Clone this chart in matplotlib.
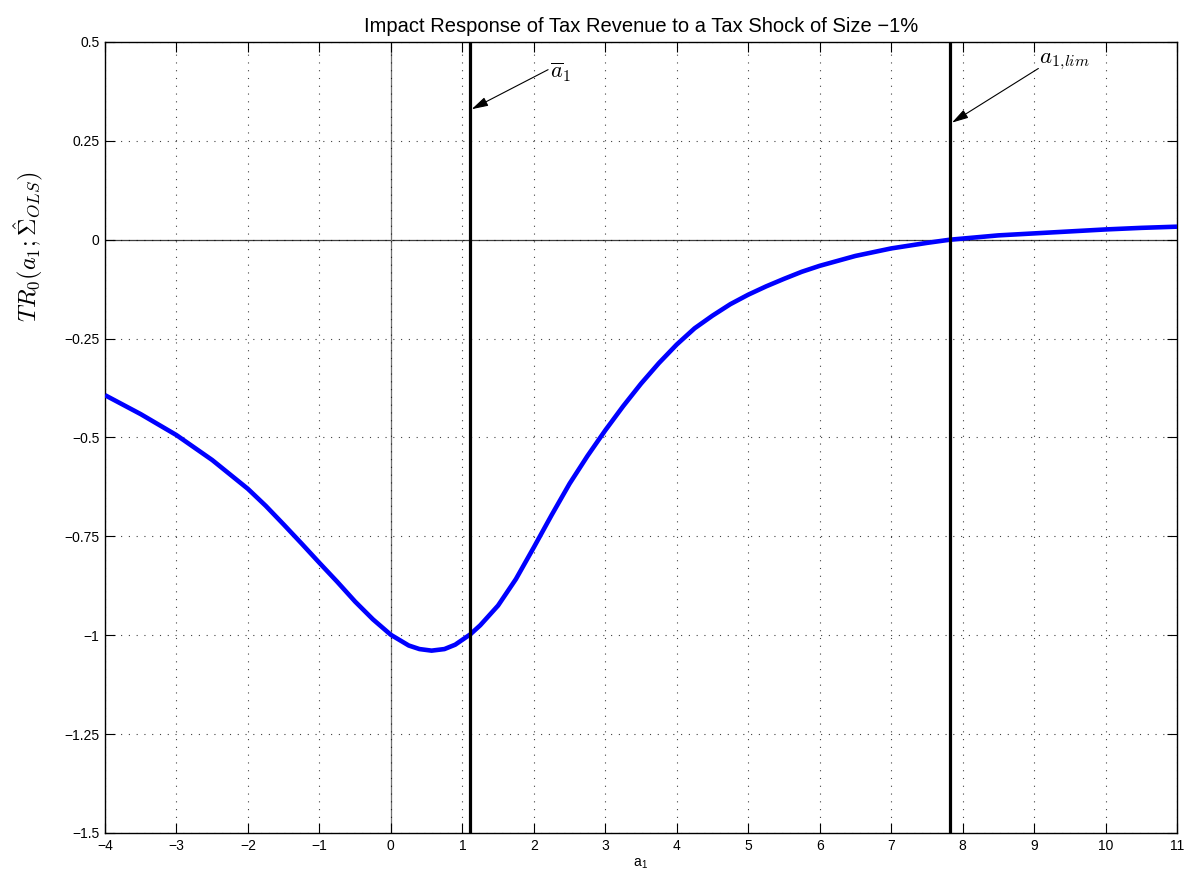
#!/usr/bin/env python3
"""Impact response of tax revenue to a -1% tax shock, as a function of a1."""

import matplotlib

matplotlib.use("Agg")
import matplotlib.pyplot as plt

# values
a1 = [-4.0, -3.5, -3.0, -2.5, -2.0, -1.75, -1.5, -1.25, -1.0, -0.75, -0.5,
      -0.25, 0.0, 0.25, 0.4, 0.57, 0.75, 0.9, 1.11, 1.25, 1.5, 1.75, 2.0,
      2.25, 2.5, 2.75, 3.0, 3.25, 3.5, 3.75, 4.0, 4.25, 4.5, 4.75, 5.0,
      5.25, 5.5, 5.75, 6.0, 6.5, 7.0, 7.5, 7.82, 8.5, 9.0, 9.5, 10.0, 10.5,
      11.0]
tr0 = [-0.393, -0.441, -0.494, -0.557, -0.630, -0.673, -0.720, -0.768,
       -0.817, -0.865, -0.915, -0.960, -0.999, -1.026, -1.035, -1.039,
       -1.035, -1.024, -0.998, -0.975, -0.925, -0.858, -0.778, -0.696,
       -0.617, -0.547, -0.482, -0.421, -0.364, -0.312, -0.265, -0.224,
       -0.192, -0.163, -0.139, -0.118, -0.099, -0.081, -0.066, -0.041,
       -0.022, -0.008, 0.0, 0.011, 0.016, 0.021, 0.026, 0.030, 0.033]

a1_bar = 1.11
a1_lim = 7.82

xticks = list(range(-4, 12))
yticks = [0.5, 0.25, 0.0, -0.25, -0.5, -0.75, -1.0, -1.25, -1.5]
ytick_labels = ["0.5", "0.25", "0", "\u22120.25", "\u22120.5", "\u22120.75",
                "\u22121", "\u22121.25", "\u22121.5"]

plt.rcParams["font.family"] = ["Liberation Sans", "DejaVu Sans"]
plt.rcParams["mathtext.fontset"] = "cm"

fig = plt.figure(figsize=(11.93, 8.82), dpi=100)
ax = fig.add_axes([0.088, 0.0556, 0.8986, 0.8968])

ax.set_xlim(-4, 11)
ax.set_ylim(-1.5, 0.5)
ax.set_xticks(xticks)
ax.set_yticks(yticks)
ax.set_yticklabels(ytick_labels)
ax.grid(True, linestyle=(0, (1, 6)), color="black", linewidth=0.8, alpha=0.75)
ax.tick_params(direction="in", length=7, width=0.8, top=True, right=True,
               labelsize=10, pad=4)
for s in ax.spines.values():
    s.set_linewidth(1.0)

# zero reference lines
ax.axhline(0, color="0.25", linewidth=0.9, zorder=1)
ax.axvline(0, color="0.45", linewidth=0.9, zorder=1)

ax.plot(a1, tr0, color="#0000ff", linewidth=3.3, zorder=3,
        solid_joinstyle="round", solid_capstyle="butt")
ax.axvline(a1_bar, color="black", linewidth=2.3, zorder=4)
ax.axvline(a1_lim, color="black", linewidth=2.3, zorder=4)

arrow = dict(arrowstyle="-|>,head_length=1.0,head_width=0.28", color="black",
             linewidth=0.8, shrinkA=0, shrinkB=0)
ax.annotate("", xy=(1.13, 0.33), xytext=(2.2, 0.43), arrowprops=arrow)
ax.text(2.22, 0.424, r"$\overline{a}_1$", fontsize=16, va="center", ha="left")
ax.annotate("", xy=(7.85, 0.296), xytext=(9.06, 0.433), arrowprops=arrow)
ax.text(9.07, 0.452, r"$a_{1,\!lim}$", fontsize=16.5, va="center", ha="left")

ax.set_title("Impact Response of Tax Revenue to a Tax Shock of Size \u22121%",
             fontsize=14.5, pad=7)
ax.set_xlabel("a$_\\mathregular{1}$", fontsize=10, labelpad=3)
ax.set_ylabel(r"$TR_0(a_1;\hat{\Sigma}_{OLS})$", fontsize=17.5,
              va="center", ha="center")
ax.yaxis.set_label_coords(-0.072, 0.741)

fig.savefig("out.png", dpi=100)
